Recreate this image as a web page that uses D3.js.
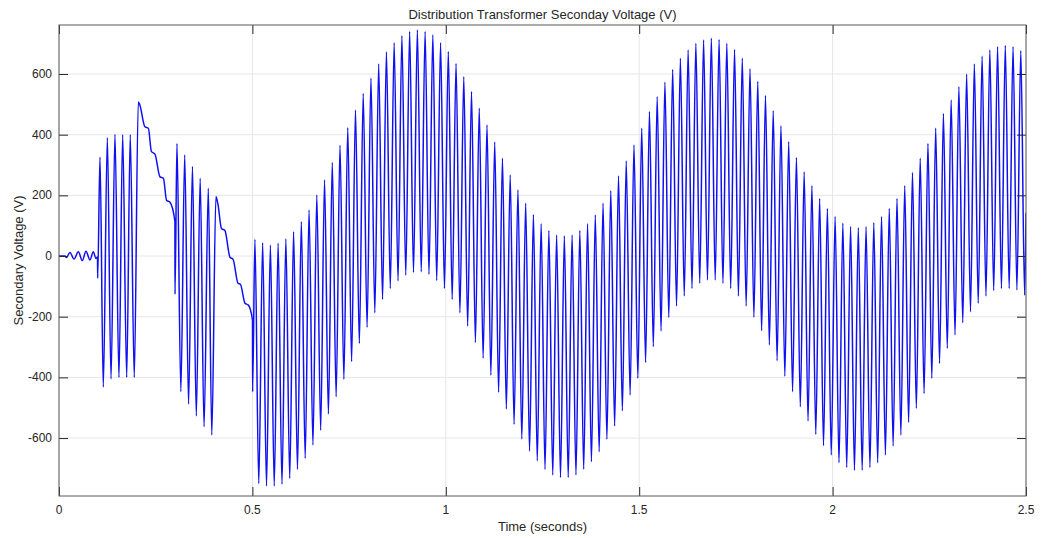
<!DOCTYPE html>
<html>
<head>
<meta charset="utf-8">
<script src="https://cdn.jsdelivr.net/npm/d3@7"></script>
<style>
  body { margin: 0; background: #fff; }
  svg { font-family: "Liberation Sans", Arial, Helvetica, sans-serif; }
</style>
</head>
<body>
<svg width="1049" height="538"></svg>
<script>
const svg = d3.select("svg");

const width = +svg.attr("width");
const height = +svg.attr("height");

const titleText = "Distribution Transformer Seconday Voltage (V)";
const xLabelText = "Time (seconds)";
const yLabelText = "Secondary Voltage (V)";

const xTicks = [0, 0.5, 1, 1.5, 2, 2.5];
const yTicks = [-600, -400, -200, 0, 200, 400, 600];

// transient part (0 - 0.5 s)
const startTimes = [
  0, 0.0155, 0.0190, 0.0284, 0.0388, 0.0500, 0.0603, 0.0698, 0.0800, 0.0887, 0.0956, 0.0995,
  0.1000, 0.1060, 0.1145, 0.1250, 0.1345, 0.1447, 0.1550, 0.1646, 0.1750, 0.1842, 0.1946,
  0.2050, 0.2090, 0.2220, 0.2310, 0.2390, 0.2480, 0.2610, 0.2700, 0.2780, 0.2870, 0.2997,
  0.2999, 0.3050, 0.3150, 0.3250, 0.3350, 0.3450, 0.3550, 0.3650, 0.3750, 0.3860, 0.3950,
  0.4057, 0.4110, 0.4200, 0.4290, 0.4420, 0.4500, 0.4630, 0.4690, 0.4810, 0.4890, 0.5003,
  0.5005
];
const startVolts = [
  0, 0, -5, 12, -10, 14, -15, 16, -13, 14, -8, -3,
  -73, 326, -432, 390, -405, 401, -400, 400, -400, 400, -400,
  508, 498, 426, 421, 344, 336, 261, 256, 184, 177, 113,
  -126, 371, -447, 333, -488, 295, -527, 256, -563, 223, -590,
  196, 170, 91, 84, -4, -11, -90, -93, -156, -161, -211,
  -447
];

// steady part from 0.5 s: one peak and one trough per 50 Hz cycle
const firstPeakTime = 0.5065;
const firstTroughTime = 0.5165;
const cyclePeriod = 0.02;

const peakVolts = [
  55, 44, 36, 42, 56, 80, 113, 152, 201, 251, 308, 365, 423, 481, 536, 586, 633, 673, 703, 726,
  740, 745, 740, 729, 703, 674, 635, 591, 542, 487, 432, 376, 322, 267, 218, 174, 137, 106, 84, 69,
  66, 69, 84, 106, 135, 174, 215, 264, 313, 366, 421, 476, 525, 573, 615, 652, 679, 701, 712, 718,
  714, 701, 681, 652, 617, 575, 529, 479, 429, 377, 325, 277, 232, 190, 157, 130, 108, 97, 93, 97,
  110, 130, 157, 190, 232, 275, 322, 371, 421, 470, 514, 558, 599, 633, 659, 679, 690, 694, 690, 677
];
const troughVolts = [
  -750, -758, -758, -752, -733, -703, -667, -623, -574, -521, -464, -406, -348, -288, -235, -187, -143, -107, -82, -63,
  -54, -52, -60, -81, -107, -143, -187, -231, -285, -337, -393, -449, -504, -555, -603, -643, -675, -703, -722, -730,
  -730, -722, -703, -678, -645, -604, -560, -510, -458, -403, -351, -299, -247, -203, -165, -132, -107, -90, -79, -79,
  -90, -107, -132, -165, -202, -246, -293, -345, -396, -447, -497, -544, -588, -625, -656, -681, -697, -706, -706, -697,
  -681, -656, -626, -590, -548, -502, -453, -403, -354, -304, -260, -220, -184, -156, -132, -114, -107, -107, -112, -129
];

const endTime = 2.5;
const endVolt = 143;

const trace = startTimes.map((t, i) => ({ t: t, v: startVolts[i] }));
peakVolts.forEach((p, k) => {
  trace.push({ t: firstPeakTime + k * cyclePeriod, v: p });
  trace.push({ t: firstTroughTime + k * cyclePeriod, v: troughVolts[k] });
});
trace.push({ t: endTime, v: endVolt });

const margin = { top: 25, right: 23, bottom: 42, left: 59 };
const innerWidth = width - margin.left - margin.right;
const innerHeight = height - margin.top - margin.bottom;

const xScale = d3.scaleLinear().domain([0, 2.5]).range([0, innerWidth]);
const yScale = d3.scaleLinear().domain([-791, 761.5]).range([innerHeight, 0]);

const g = svg.append("g")
    .attr("transform", `translate(${margin.left},${margin.top})`);

// grid
g.append("g").selectAll("line").data(xTicks)
  .enter().append("line")
    .attr("x1", d => xScale(d)).attr("x2", d => xScale(d))
    .attr("y1", 0).attr("y2", innerHeight)
    .attr("stroke", "#e6e6e6");
g.append("g").selectAll("line").data(yTicks)
  .enter().append("line")
    .attr("x1", 0).attr("x2", innerWidth)
    .attr("y1", d => yScale(d)).attr("y2", d => yScale(d))
    .attr("stroke", "#e6e6e6");

// trace
svg.append("defs").append("clipPath").attr("id", "plotClip")
  .append("rect").attr("width", innerWidth).attr("height", innerHeight);

const line = d3.line()
    .x(d => xScale(d.t))
    .y(d => yScale(d.v))
    .curve(d3.curveMonotoneX);

g.append("path")
    .datum(trace)
    .attr("clip-path", "url(#plotClip)")
    .attr("fill", "none")
    .attr("stroke", "#1010f0")
    .attr("stroke-width", 1.5)
    .attr("d", line);

// tick marks pointing inward on all four sides, like matlab
const tickMarks = sel => {
  sel.select(".domain").remove();
  sel.selectAll(".tick line").attr("stroke", "#262626");
  sel.selectAll(".tick text").remove();
};

g.append("g")
    .attr("transform", `translate(0,${innerHeight})`)
    .call(d3.axisBottom(xScale).tickValues(xTicks).tickSize(-9))
    .call(tickMarks);
g.append("g")
    .call(d3.axisTop(xScale).tickValues(xTicks).tickSize(-9))
    .call(tickMarks);
g.append("g")
    .call(d3.axisLeft(yScale).tickValues(yTicks).tickSize(-9))
    .call(tickMarks);
g.append("g")
    .attr("transform", `translate(${innerWidth},0)`)
    .call(d3.axisRight(yScale).tickValues(yTicks).tickSize(-9))
    .call(tickMarks);

g.append("rect")
    .attr("width", innerWidth)
    .attr("height", innerHeight)
    .attr("fill", "none")
    .attr("stroke", "#5a5a5a");

// tick labels
g.append("g").selectAll("text").data(xTicks)
  .enter().append("text")
    .attr("x", d => xScale(d))
    .attr("y", innerHeight + 18)
    .attr("text-anchor", "middle")
    .attr("fill", "#262626")
    .style("font-size", "12px")
    .text(d => String(d));

g.append("g").selectAll("text").data(yTicks)
  .enter().append("text")
    .attr("x", -7)
    .attr("y", d => yScale(d) + 4)
    .attr("text-anchor", "end")
    .attr("fill", "#262626")
    .style("font-size", "12px")
    .text(d => String(d));

// labels
svg.append("text")
    .attr("x", margin.left + innerWidth / 2)
    .attr("y", 19)
    .attr("text-anchor", "middle")
    .attr("fill", "#262626")
    .style("font-size", "13px")
    .text(titleText);

svg.append("text")
    .attr("x", margin.left + innerWidth / 2)
    .attr("y", 531)
    .attr("text-anchor", "middle")
    .attr("fill", "#262626")
    .style("font-size", "13px")
    .text(xLabelText);

svg.append("text")
    .attr("transform", "rotate(-90)")
    .attr("x", -(margin.top + innerHeight / 2))
    .attr("y", 23)
    .attr("text-anchor", "middle")
    .attr("fill", "#262626")
    .style("font-size", "13px")
    .text(yLabelText);
</script>
</body>
</html>
